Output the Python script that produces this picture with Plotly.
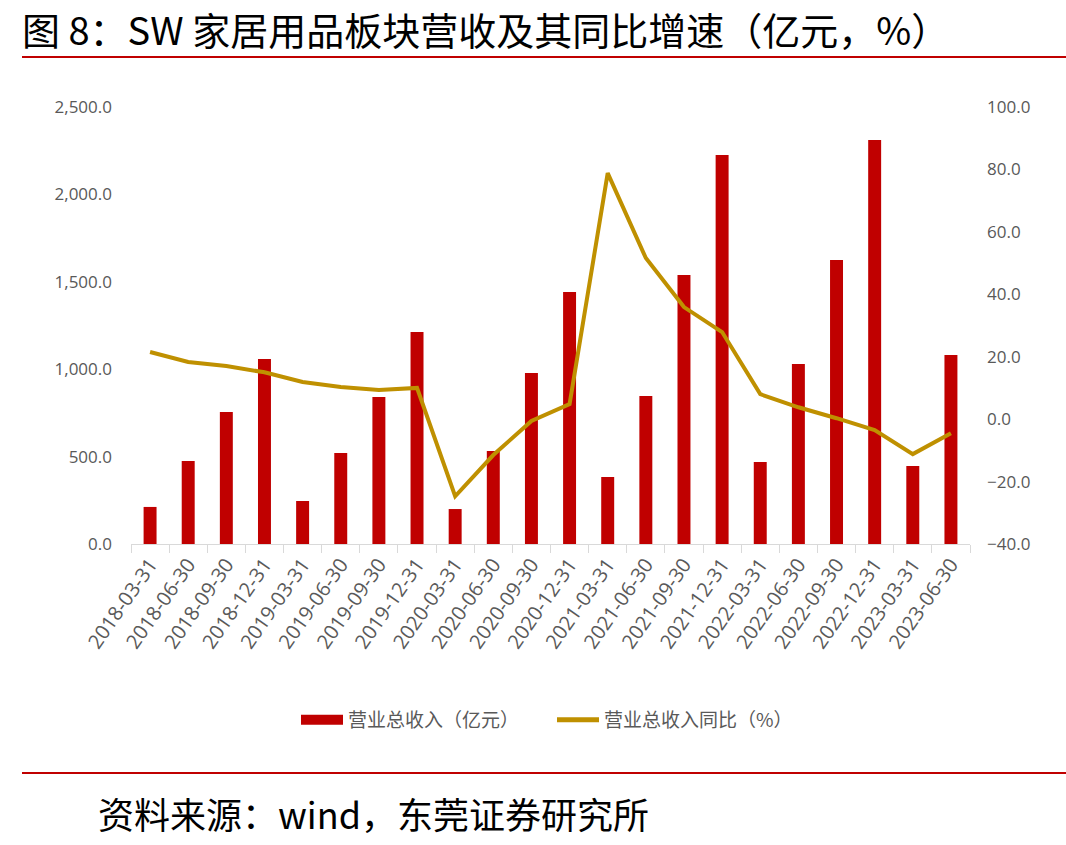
import plotly.graph_objects as go

categories = ["2018-03-31", "2018-06-30", "2018-09-30", "2018-12-31",
              "2019-03-31", "2019-06-30", "2019-09-30", "2019-12-31",
              "2020-03-31", "2020-06-30", "2020-09-30", "2020-12-31",
              "2021-03-31", "2021-06-30", "2021-09-30", "2021-12-31",
              "2022-03-31", "2022-06-30", "2022-09-30", "2022-12-31",
              "2023-03-31", "2023-06-30"]
revenue = [212, 475, 755, 1058, 246, 520, 841, 1213, 200, 532, 978, 1442,
           383, 847, 1539, 2225, 469, 1030, 1625, 2311, 446, 1081]
yoy = [21.5, 18.3, 17.0, 15.0, 11.9, 10.3, 9.3, 10.0, -24.7, -11.5, -0.6, 4.8,
       78.8, 51.6, 35.9, 27.9, 8.0, 3.8, 0.3, -3.5, -11.2, -4.5]

TICK_FONT = dict(family="Open Sans, Noto Sans CJK SC, sans-serif", size=17, color="#595959")
XTICK_FONT = dict(family="Open Sans, Noto Sans CJK SC, sans-serif", size=20, color="#595959")
CJK = "Noto Sans CJK SC, sans-serif"
BAR_COLOR = "#C00000"
LINE_COLOR = "#BF9000"

fig = go.Figure()
fig.add_trace(go.Bar(x=categories, y=revenue, name="营业总收入（亿元）", showlegend=False,
                     marker=dict(color=BAR_COLOR, line=dict(width=0)), yaxis="y"))
fig.add_trace(go.Scatter(x=categories, y=yoy, name="营业总收入同比（%）", mode="lines",
                         showlegend=False,
                         line=dict(color=LINE_COLOR, width=4), yaxis="y2"))
# legend entries
fig.add_trace(go.Scatter(x=[None], y=[None], name="营业总收入（亿元）", mode="lines",
                         line=dict(color=BAR_COLOR, width=12), yaxis="y"))
fig.add_trace(go.Scatter(x=[None], y=[None], name="营业总收入同比（%）", mode="lines",
                         line=dict(color=LINE_COLOR, width=5), yaxis="y2"))

W, H = 1066, 845
L, R, T, B = 131, 96, 107, 301
pw, ph = W - L - R, H - T - B

def px(x):
    return (x - L) / pw

def py(y):
    return (H - B - y) / ph

fig.update_layout(
    width=W, height=H,
    margin=dict(l=L, r=R, t=T, b=B),
    paper_bgcolor="white", plot_bgcolor="white",
    bargap=0.66,
    showlegend=True,
    legend=dict(orientation="h", x=px(296), y=py(720), xanchor="left", yanchor="middle",
                font=dict(family=CJK, size=19, color="#595959"), itemwidth=42,
                entrywidth=199, entrywidthmode="pixels",
                traceorder="normal", tracegroupgap=0),
    xaxis=dict(type="category", tickangle=-55, tickfont=XTICK_FONT, showgrid=False,
               showline=True, linecolor="#D9D9D9", linewidth=1,
               ticks="outside", tickson="boundaries", ticklen=8, tickcolor="#D9D9D9"),
    yaxis=dict(range=[0, 2500], dtick=500, tickformat=",.1f", tickfont=TICK_FONT,
               showgrid=False, zeroline=False, showline=False, ticks="",
               ticklabelstandoff=18),
    yaxis2=dict(range=[-40, 100], dtick=20, tickformat=".1f", tickfont=TICK_FONT,
                overlaying="y", side="right", showgrid=False, zeroline=False,
                showline=False, ticks="", ticklabelstandoff=16),
    annotations=[
        dict(text="图 8：SW 家居用品板块营收及其同比增速（亿元，%）", xref="paper", yref="paper",
             x=px(20), y=py(29), xanchor="left", yanchor="middle", showarrow=False,
             font=dict(family=CJK, size=38, color="black")),
        dict(text="资料来源：wind，东莞证券研究所", xref="paper", yref="paper",
             x=px(96), y=py(813), xanchor="left", yanchor="middle", showarrow=False,
             font=dict(family=CJK, size=36, color="black")),
    ],
    shapes=[
        dict(type="line", xref="paper", yref="paper", x0=px(22), x1=px(1066), y0=py(57), y1=py(57),
             line=dict(color="#C00000", width=2)),
        dict(type="line", xref="paper", yref="paper", x0=px(22), x1=px(1066), y0=py(773), y1=py(773),
             line=dict(color="#C00000", width=2)),
    ],
)

fig.write_html("out.html")
